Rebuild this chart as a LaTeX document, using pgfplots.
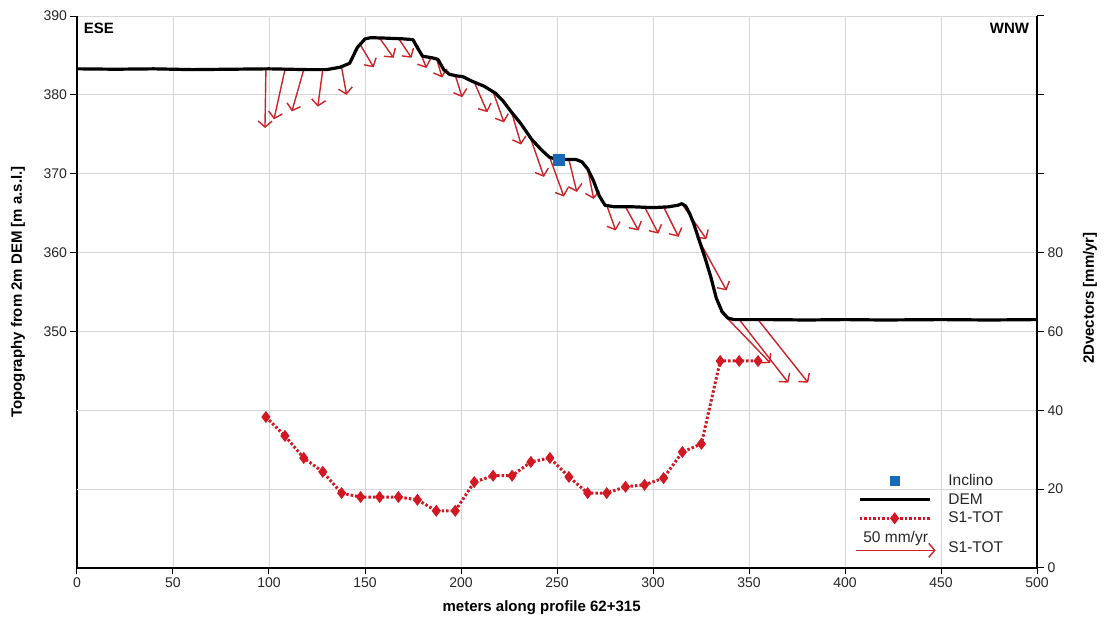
\documentclass[border=0pt]{standalone}
\usepackage{fontspec}
\setmainfont{Liberation Sans}
\usepackage{pgfplots}
\usepackage{pgfplotstable}
\pgfplotsset{compat=1.18}
\usetikzlibrary{arrows.meta}
\definecolor{arrred}{RGB}{205,35,40}
\definecolor{totred}{RGB}{210,25,35}
\definecolor{incblue}{RGB}{25,105,185}
\definecolor{gridgray}{RGB}{215,215,215}

\pgfplotstableread{
x y
0 383.3
20 383.25
40 383.3
60 383.2
80 383.25
100 383.3
120 383.2
130 383.2
137 383.5
142 384.0
146 386.0
150 387.1
153 387.25
160 387.2
170 387.1
175 387.0
177 386.1
180 384.9
185 384.7
188 384.5
191 383.2
194 382.6
198 382.4
201 382.3
206 381.7
212 381.1
218 380.2
222 379.2
226 377.9
231 376.4
237 374.3
242 373.0
246 372.1
250 371.8
256 371.8
260 371.8
263 371.5
266 370.6
269 369.1
272 367.2
275 366.0
280 365.8
290 365.8
300 365.7
308 365.8
313 366.0
315 366.2
317 365.9
319 365.0
321 363.8
324 361.6
327 359.4
330 357.0
333 354.2
336 352.5
339 351.7
342 351.5
360 351.5
380 351.45
400 351.5
420 351.45
450 351.5
475 351.45
500 351.5
}\demtable

\pgfplotstableread{
x y u v
98.4 383.3 -0.5 -7.5
108.3 383.2 -5.7 -6.3
118.1 383.2 -6.2 -5.3
128.0 383.2 -2.6 -4.7
137.8 383.5 2.6 -3.5
147.7 386.3 6.8 -2.8
157.6 387.2 7.3 -2.5
167.4 387.2 6.8 -2.5
177.3 386.3 4.7 -2.9
187.1 384.7 3.1 -2.5
197.0 382.5 3.6 -2.8
206.9 381.6 6.8 -3.8
216.7 380.4 5.7 -3.9
226.6 377.6 4.7 -3.9
236.4 374.4 6.8 -4.8
246.3 372.0 7.3 -4.9
256.2 371.8 4.1 -4.1
266.0 370.6 3.1 -3.8
275.9 366.0 4.7 -3.2
285.7 365.8 6.7 -3.0
295.6 365.8 7.2 -3.4
305.5 365.8 7.8 -3.8
315.3 366.1 12.5 -4.4
325.2 361.0 13.1 -5.8
335.0 352.6 26.1 -6.6
344.9 351.5 25.6 -8.0
354.7 351.5 26.1 -8.0
}\arrtable

\pgfplotstableread{
x v
98.4 38.3
108.3 33.5
118.1 27.9
128.0 24.4
137.8 19.0
147.7 18.0
157.6 18.0
167.4 18.0
177.3 17.3
187.1 14.5
197.0 14.5
206.9 21.8
216.7 23.4
226.6 23.4
236.4 26.9
246.3 27.9
256.2 23.1
266.0 19.0
275.9 19.0
285.7 20.6
295.6 21.1
305.5 22.8
315.3 29.4
325.2 31.5
335.0 52.5
344.9 52.5
354.7 52.5
}\tottable

\begin{document}
\begin{tikzpicture}
\useasboundingbox (-77pt,-53pt) rectangle (1027pt,568pt);
\begin{axis}[
  width=960pt, height=552pt, scale only axis,
  xmin=0, xmax=500, ymin=320, ymax=390,
  axis x line*=bottom, axis y line*=left,
  xtick={0,50,...,500},
  ytick={350,360,...,390},
  extra y ticks={330,340}, extra y tick labels={},
  extra y tick style={major tick length=0pt},
  grid=major, major grid style={gridgray, line width=0.8pt},
  tick align=outside, major tick length=6.5pt,
  tick style={black, line width=1pt},
  axis line style={black, line width=1.8pt, -},
  /pgf/number format/assume math mode=true,
  ticklabel style={font=\fontsize{14}{16}\selectfont, text=black!85},
  xlabel={meters along profile 62+315},
  ylabel={Topography from 2m DEM [m a.s.l.]},
  label style={font=\bfseries\fontsize{15}{18}\selectfont},
  xlabel style={at={(axis description cs:0.484,-0.0725)}, anchor=center},
  ylabel style={at={(axis description cs:-0.0615,0.5)}, anchor=center},
]
\addplot[arrred, line width=1.4pt, -{Straight Barb[length=6pt,width=14pt]},
  quiver={u=\thisrow{u}, v=\thisrow{v}}] table[x=x, y=y] {\arrtable};
\addplot[black, line width=3.2pt, line join=round] table[x=x, y=y] {\demtable};
\addplot[only marks, mark=square*, mark size=5.5pt, incblue] coordinates {(251,371.8)};
\node[anchor=north west, font=\bfseries\fontsize{15}{18}\selectfont, inner sep=1pt] at (rel axis cs:0.006,0.989) {ESE};
\node[anchor=north east, font=\bfseries\fontsize{15}{18}\selectfont, inner sep=1pt] at (rel axis cs:0.993,0.989) {WNW};
\end{axis}
\begin{axis}[
  width=960pt, height=552pt, scale only axis,
  xmin=0, xmax=500, ymin=0, ymax=140,
  axis x line=none, axis y line*=right,
  ytick={0,20,...,140},
  yticklabels={0,20,40,60,80,{},{},{}},
  tick align=outside, major tick length=7pt,
  tick style={black, line width=1pt},
  axis line style={black, line width=1.8pt, -},
  /pgf/number format/assume math mode=true,
  ticklabel style={font=\fontsize{14}{16}\selectfont, text=black!85},
  ylabel={2Dvectors [mm/yr]},
  label style={font=\bfseries\fontsize{15}{18}\selectfont},
  ylabel style={at={(axis description cs:1.0552,0.489)}, anchor=center},
  legend cell align=left,
  legend style={draw=none, fill=none, at={(axis description cs:0.807,0.1775)}, anchor=north west,
    font=\fontsize{15.5}{18}\selectfont, text=black!85, row sep=2.5pt,
    /tikz/every odd column/.append style={column sep=10pt}},
]
\addlegendimage{legend image code/.code={\draw[only marks, mark=square*, mark size=4.5pt, incblue] plot coordinates {(35pt,0pt)};}}
\addlegendentry{Inclino}
\addlegendimage{legend image code/.code={\draw[black, line width=3.2pt] plot coordinates {(0pt,0pt) (70pt,0pt)};}}
\addlegendentry{DEM}
\addplot[totred, line width=3pt, dash pattern=on 2.5pt off 2pt, mark=diamond*, mark size=3.6pt, mark options={solid},
  legend image code/.code={\draw[totred, line width=3pt, dash pattern=on 2.5pt off 2pt, mark=diamond*, mark size=3.6pt, mark options={solid}, mark repeat=2, mark phase=2] plot coordinates {(0pt,0pt) (35pt,0pt) (70pt,0pt)};}]
  table[x=x, y=v] {\tottable};
\addlegendentry{S1-TOT}
\addlegendimage{legend image code/.code={\draw[arrred, line width=1.4pt, -{Straight Barb[length=6pt,width=14pt]}] (-4pt,-3pt) -- (76pt,-3pt) node[pos=0.5, above=4pt, text=black!85, font=\fontsize{15.5}{18}\selectfont] {50 mm/yr};}}
\addlegendentry{S1-TOT}
\end{axis}
\end{tikzpicture}
\end{document}
